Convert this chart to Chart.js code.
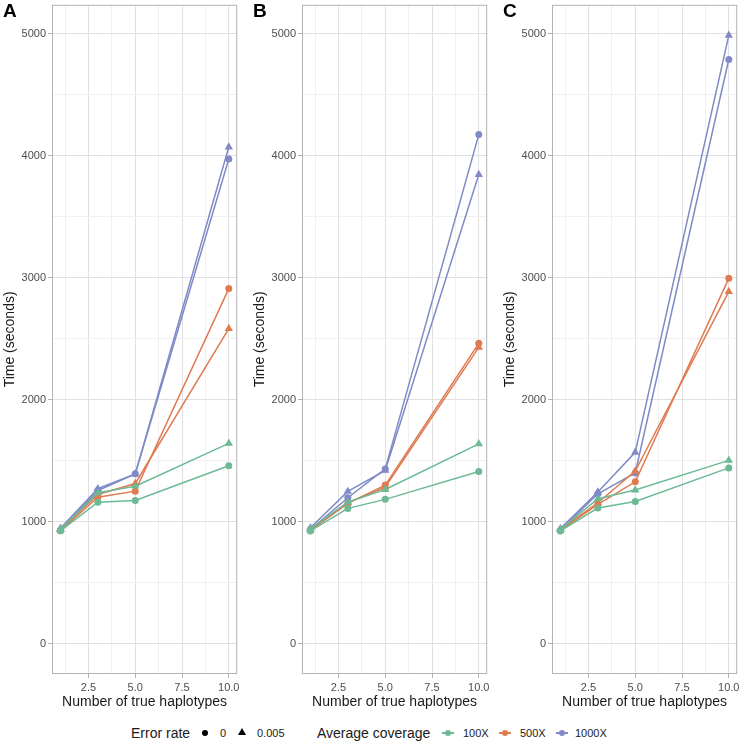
<!DOCTYPE html>
<html>
<head>
<meta charset="utf-8">
<script src="https://cdn.jsdelivr.net/npm/chart.js@4.4.1/dist/chart.umd.min.js"></script>
<style>
  body { margin: 0; background: #fff; font-family: 'Liberation Sans', Arial, sans-serif; }
  #wrap { position: relative; width: 744px; height: 742px; overflow: hidden; }
  .panel { position: absolute; top: 0; }
  .letter { position: absolute; top: 0; font-weight: bold; font-size: 19px; color: #000; }
  .leg { position: absolute; top: 724px; height: 18px; line-height: 18px; white-space: nowrap; color: #1a1a1a; }
  .leg.title { font-size: 14px; }
  .leg.lab { font-size: 11px; color: #1a1a1a; }
  .dot { position: absolute; width: 6px; height: 6px; border-radius: 50%; background: #000; top: 730px; }
  .tri { position: absolute; width: 0; height: 0; border-left: 4px solid transparent; border-right: 4px solid transparent; border-bottom: 7px solid #000; top: 728px; }
  .key { position: absolute; top: 732px; height: 1.5px; width: 12px; }
</style>
</head>
<body>
<div id="wrap">
  <div class="panel" style="left:0"><canvas id="chartA" width="242" height="711"></canvas></div>
  <div class="panel" style="left:250px"><canvas id="chartB" width="242" height="711"></canvas></div>
  <div class="panel" style="left:500px"><canvas id="chartC" width="242" height="711"></canvas></div>
  <div class="letter" style="left:3px">A</div>
  <div class="letter" style="left:253px">B</div>
  <div class="letter" style="left:503px">C</div>

  <div class="leg title" style="left:131px">Error rate</div>
  <div class="dot" style="left:202px"></div>
  <div class="leg lab" style="left:220px">0</div>
  <div class="tri" style="left:238px"></div>
  <div class="leg lab" style="left:257px">0.005</div>

  <div class="leg title" style="left:317px">Average coverage</div>
  <div class="key" style="left:442px;background:#6cba95"></div>
  <div class="dot" style="left:445px;background:#6cba95"></div>
  <div class="leg lab" style="left:463px">100X</div>
  <div class="key" style="left:499px;background:#e07a50"></div>
  <div class="dot" style="left:502px;background:#e07a50"></div>
  <div class="leg lab" style="left:520px">500X</div>
  <div class="key" style="left:556px;background:#7f8ac6"></div>
  <div class="dot" style="left:559px;background:#7f8ac6"></div>
  <div class="leg lab" style="left:575px">1000X</div>
</div>
<script>
// number of true haplotypes (x)
const hapCounts = [1, 3, 5, 10];
const coverageLabels = ['100X', '500X', '1000X'];
const errorLabels = ['0', '0.005'];
const coverageColors = ['#6cba95', '#e07a50', '#7f8ac6'];

// panel A, time in seconds
const a100_e0 = [925, 1160, 1174, 1458];
const a100_e5 = [935, 1237, 1291, 1642];
const a500_e0 = [925, 1201, 1250, 2912];
const a500_e5 = [935, 1223, 1313, 2584];
const a1000_e0 = [930, 1255, 1392, 3974];
const a1000_e5 = [945, 1270, 1392, 4073];

// panel B
const b100_e0 = [924, 1109, 1183, 1412];
const b100_e5 = [940, 1160, 1264, 1638];
const b500_e0 = [929, 1150, 1300, 2463];
const b500_e5 = [935, 1155, 1283, 2430];
const b1000_e0 = [935, 1196, 1433, 4175];
const b1000_e5 = [950, 1248, 1420, 3847];

// panel C
const c100_e0 = [924, 1112, 1166, 1441];
const c100_e5 = [935, 1188, 1259, 1503];
const c500_e0 = [929, 1142, 1327, 2996];
const c500_e5 = [935, 1155, 1415, 2887];
const c1000_e0 = [930, 1229, 1400, 4791];
const c1000_e5 = [943, 1243, 1569, 4989];

const xMajor = [2.5, 5, 7.5, 10];
const xGridTicks = [1.25, 2.5, 3.75, 5, 6.25, 7.5, 8.75, 10];
const yMajor = [0, 1000, 2000, 3000, 4000, 5000];
const yGridTicks = [0, 500, 1000, 1500, 2000, 2500, 3000, 3500, 4000, 4500, 5000];

const panelBorder = {
  id: 'panelBorder',
  afterDraw(chart) {
    const c = chart.chartArea;
    const ctx = chart.ctx;
    ctx.save();
    ctx.strokeStyle = '#b3b3b3';
    ctx.lineWidth = 1;
    ctx.strokeRect(c.left + 0.5, c.top + 0.5, c.right - c.left - 1, c.bottom - c.top - 1);
    ctx.restore();
  }
};

function makeDatasets(series) {
  let sets = [];
  series.forEach((vals, i) => {
    const cov = Math.floor(i / 2);
    const err = i % 2;
    sets.push({
      label: coverageLabels[cov] + ' / ' + errorLabels[err],
      data: hapCounts.map((x, j) => ({x: x, y: vals[j]})),
      borderColor: coverageColors[cov],
      backgroundColor: coverageColors[cov],
      borderWidth: 1.5,
      pointStyle: err === 0 ? 'circle' : 'triangle',
      pointRadius: err === 0 ? 3.5 : 4.8,
      pointBorderWidth: 0,
      tension: 0,
      fill: false
    });
  });
  return sets;
}

function isMajor(list, v) {
  return list.some(m => Math.abs(m - v) < 1e-6);
}

function makeChart(id, series) {
  const config = {
    type: 'line',
    data: { datasets: makeDatasets(series) },
    options: {
      responsive: false,
      animation: false,
      devicePixelRatio: 1,
      layout: { padding: { top: 2, right: 2, left: 0, bottom: 0 } },
      plugins: { legend: { display: false }, tooltip: { enabled: false } },
      scales: {
        x: {
          type: 'linear',
          min: 0.55,
          max: 10.45,
          afterBuildTicks: axis => { axis.ticks = xGridTicks.map(v => ({value: v})); },
          afterFit: axis => { axis.height = 37; axis.paddingLeft = 0; axis.paddingRight = 0; },
          ticks: {
            autoSkip: false,
            maxRotation: 0,
            padding: 3,
            color: '#4d4d4d',
            font: { size: 11 },
            callback: v => isMajor(xMajor, v) ? v.toFixed(1) : ''
          },
          grid: {
            color: c => isMajor(xMajor, c.tick.value) ? '#e0e0e0' : '#f0f0f0',
            tickColor: c => isMajor(xMajor, c.tick.value) ? '#b3b3b3' : 'rgba(0,0,0,0)',
            tickLength: 4,
            lineWidth: 1
          },
          border: { display: false },
          title: { display: true, text: 'Number of true haplotypes', color: '#1a1a1a', font: { size: 14 }, padding: 0 }
        },
        y: {
          type: 'linear',
          min: -249.5,
          max: 5239.5,
          afterBuildTicks: axis => { axis.ticks = yGridTicks.map(v => ({value: v})); },
          afterFit: axis => { axis.width = 52; axis.paddingTop = 0; axis.paddingBottom = 0; },
          ticks: {
            padding: 2,
            color: '#4d4d4d',
            font: { size: 11 },
            callback: v => isMajor(yMajor, v) ? String(v) : ''
          },
          grid: {
            color: c => isMajor(yMajor, c.tick.value) ? '#e0e0e0' : '#f0f0f0',
            tickColor: c => isMajor(yMajor, c.tick.value) ? '#b3b3b3' : 'rgba(0,0,0,0)',
            tickLength: 4,
            lineWidth: 1
          },
          border: { display: false },
          title: { display: true, text: 'Time (seconds)', color: '#1a1a1a', font: { size: 14 }, padding: { top: 2, bottom: 0 } }
        }
      }
    },
    plugins: [panelBorder]
  };
  return new Chart(document.getElementById(id), config);
}

Chart.defaults.font.family = "'Liberation Sans', Arial, sans-serif";

makeChart('chartA', [a100_e0, a100_e5, a500_e0, a500_e5, a1000_e0, a1000_e5]);
makeChart('chartB', [b100_e0, b100_e5, b500_e0, b500_e5, b1000_e0, b1000_e5]);
makeChart('chartC', [c100_e0, c100_e5, c500_e0, c500_e5, c1000_e0, c1000_e5]);
</script>
</body>
</html>
